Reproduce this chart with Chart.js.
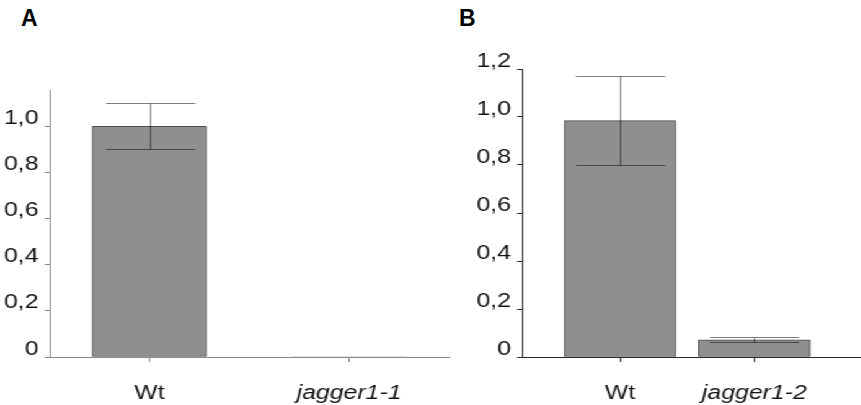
<!DOCTYPE html>
<html>
<head>
<meta charset="utf-8">
<script src="https://cdn.jsdelivr.net/npm/chart.js@4.4.1/dist/chart.umd.min.js"></script>
<style>
  html, body { margin: 0; padding: 0; background: #fff; overflow: hidden; }
  body { width: 861px; height: 405px; position: relative; }
  #stretch { position: absolute; left: 0; top: 0; width: 695px; height: 405px;
             transform: scaleX(1.24); transform-origin: 0 0; }
  #cA { position: absolute; left: 0; top: 0; }
  #cB { position: absolute; left: 370px; top: 0; }
  .panel { position: absolute; font-family: "Liberation Sans", Arial, sans-serif;
           font-weight: bold; font-size: 23px; line-height: 23px; color: #000; }
</style>
</head>
<body>
<div class="panel" style="left:21px; top:7px;">A</div>
<div class="panel" style="left:459px; top:7px;">B</div>
<div id="stretch">
  <canvas id="cA" width="370" height="405"></canvas>
  <canvas id="cB" width="325" height="405"></canvas>
</div>
<script>
// ---- data ----
const categoriesA = ['Wt', 'jagger1-1'];
const valuesA = [1.0, 0];
const errLowA = [0.9, null];
const errHighA = [1.1, null];
const yTicksA = [0, 0.2, 0.4, 0.6, 0.8, 1.0];

const categoriesB = ['Wt', 'jagger1-2'];
const valuesB = [0.985, 0.072];
const errLowB = [0.80, 0.062];
const errHighB = [1.17, 0.083];
const yTicksB = [0, 0.2, 0.4, 0.6, 0.8, 1.0, 1.2];

const italicCategory = [false, true];

// ---- helpers ----
const FONT = '"Liberation Sans", Arial, sans-serif';
function fmt(v) { return v === 0 ? '0' : v.toFixed(1).replace('.', ','); }

const errorBarPlugin = {
  id: 'errorBars',
  afterDatasetsDraw(chart, args, opts) {
    const ctx = chart.ctx, xs = chart.scales.x, ys = chart.scales.y;
    ctx.save();
    ctx.strokeStyle = 'rgba(0,0,0,0.5)';
    ctx.lineWidth = 1;
    opts.low.forEach((lo, i) => {
      const hi = opts.high[i];
      if (lo == null || hi == null) return;
      const x = Math.round(xs.getPixelForValue(i + 1)) + 0.5;
      const yh = Math.round(ys.getPixelForValue(hi)) + 0.5;
      const yl = Math.round(ys.getPixelForValue(lo)) + 0.5;
      const hw = opts.cap;
      ctx.beginPath();
      ctx.moveTo(x, yh); ctx.lineTo(x, yl);
      ctx.moveTo(x - hw, yh); ctx.lineTo(x + hw, yh);
      ctx.moveTo(x - hw, yl); ctx.lineTo(x + hw, yl);
      ctx.stroke();
    });
    ctx.restore();
  }
};

function makeChart(id, cats, vals, lo, hi, yTicks, cfg) {
  return new Chart(document.getElementById(id), {
    type: 'bar',
    data: {
      datasets: [{
        data: vals.map((v, i) => ({ x: i + 1, y: v })),
        backgroundColor: '#8f8f8f',
        borderColor: '#4a4a4a',
        borderWidth: ctx => (ctx.raw && ctx.raw.y === 0 ? 0 : 1),
        borderSkipped: false,
        barThickness: cfg.barThickness
      }]
    },
    options: {
      responsive: false,
      animation: false,
      devicePixelRatio: 1,
      layout: { padding: { left: 0, right: cfg.padRight, top: cfg.padTop, bottom: 0 } },
      plugins: {
        legend: { display: false },
        tooltip: { enabled: false },
        errorBars: { low: lo, high: hi, cap: 36 }
      },
      scales: {
        x: {
          type: 'linear',
          offset: false,
          min: cfg.xMin, max: cfg.xMax,
          afterBuildTicks: s => { s.ticks = cats.map((c, i) => ({ value: i + 1 })); },
          afterFit: s => { s.height = 48; },
          grid: { offset: false, drawOnChartArea: false, drawTicks: true, tickLength: 5, color: cfg.axisColor },
          border: { display: true, color: cfg.axisColor, width: 1 },
          ticks: {
            autoSkip: false,
            maxRotation: 0,
            padding: 19,
            color: '#151515',
            callback: (v, i) => cats[i],
            font: c => ({ family: FONT, size: 20, style: italicCategory[c.index] ? 'italic' : 'normal' })
          }
        },
        y: {
          min: 0, max: cfg.yMax,
          afterBuildTicks: s => { s.ticks = yTicks.map(v => ({ value: v })); },
          afterFit: s => { s.width = cfg.yWidth; },
          grid: { drawOnChartArea: false, drawTicks: true, tickLength: 4, color: cfg.axisColor },
          border: { display: true, color: cfg.axisColor, width: 1 },
          ticks: {
            padding: 5,
            labelOffset: -8,
            color: '#151515',
            font: { family: FONT, size: 20 },
            callback: v => fmt(v)
          }
        }
      }
    },
    plugins: [errorBarPlugin]
  });
}

makeChart('cA', categoriesA, valuesA, errLowA, errHighA, yTicksA, {
  barThickness: 92, padRight: 8, padTop: 90, xMin: 0.5, xMax: 2.5,
  yMax: 1.157, yWidth: 40, axisColor: '#8a8a8a'
});
makeChart('cB', categoriesB, valuesB, errLowB, errHighB, yTicksB, {
  barThickness: 90, padRight: 0, padTop: 69, xMin: 0.27, xMax: 2.80,
  yMax: 1.2, yWidth: 51, axisColor: '#2a2a2a'
});
</script>
</body>
</html>
